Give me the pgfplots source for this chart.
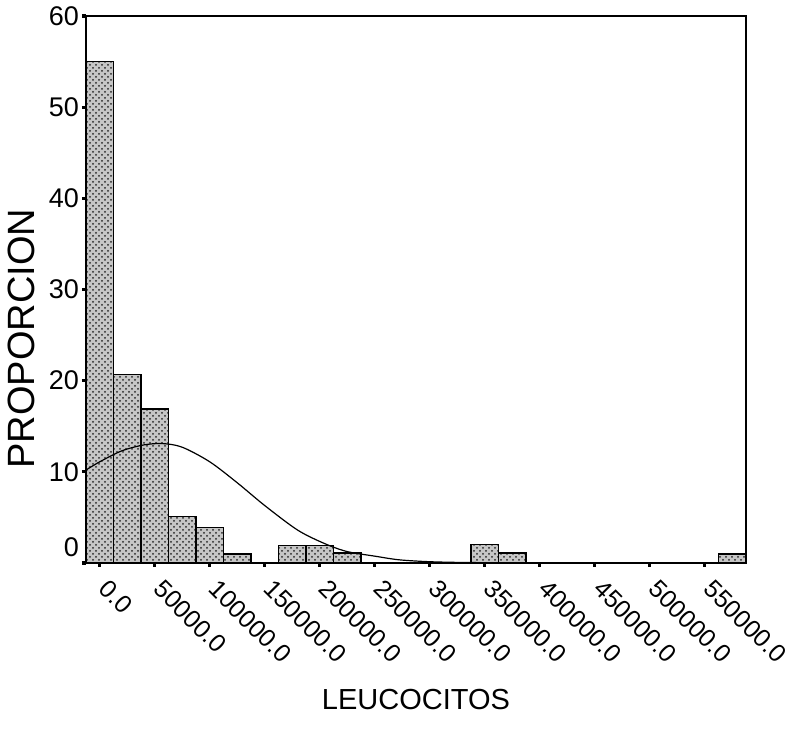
\documentclass[border=0pt]{standalone}
\usepackage{fontspec}
\setmainfont{Liberation Sans}
\usepackage{pgfplots}
\pgfplotsset{compat=1.18}
\usetikzlibrary{patterns}
\begin{document}
\begin{tikzpicture}
\begin{axis}[
  scale only axis,
  width=330pt, height=273.5pt,
  xmin=-12500, xmax=587500,
  ymin=0, ymax=60,
  scaled x ticks=false,
  axis line style={line width=0.7pt},
  xtick={0,50000,...,550000},
  xticklabels={0.0,50000.0,100000.0,150000.0,200000.0,250000.0,300000.0,350000.0,400000.0,450000.0,500000.0,550000.0},
  ytick={10,20,...,60},
  extra y ticks={0},
  extra y tick style={yticklabel style={yshift=8pt}},
  xtick pos=left, ytick pos=left,
  tick align=outside,
  major tick length=2pt,
  tick style={line width=1.6pt, black},
  xticklabel style={rotate=-45, anchor=north west, xshift=4pt, yshift=3pt, font=\fontsize{12.5}{15}\selectfont},
  yticklabel style={xshift=2pt, font=\fontsize{13.5}{16}\selectfont},
  /pgf/number format/assume math mode=true,
  every axis y label/.style={at={(axis description cs:-0.098,0.41)}, rotate=90, anchor=center, font=\fontsize{19}{22}\selectfont},
  every axis x label/.style={at={(axis description cs:0.5,-0.25)}, anchor=center, font=\fontsize{14.5}{17}\selectfont},
  xlabel={LEUCOCITOS},
  ylabel={PROPORCION},
  clip=false,
]
\addplot[ybar, bar width=25000, bar shift=0pt, draw=black, line width=0.7pt,
  fill=gray!45, postaction={pattern=crosshatch dots, pattern color=black!85}]
  coordinates {
  (0,55) (25000,20.7) (50000,16.9) (75000,5.1) (100000,3.9) (125000,1.0)
  (175000,1.9) (200000,1.9) (225000,1.1)
  (350000,2.0) (375000,1.1) (575000,1.0)
  };
\addplot[smooth, black, line width=0.6pt] coordinates {
  (-12500,10.2) (0,11.1) (20000,12.3) (40000,12.95) (57000,13.1)
  (75000,12.7) (100000,11.1) (125000,8.8) (150000,6.3)
  (180000,3.6) (205000,2.1) (225000,1.25) (250000,0.75) (272000,0.35)
  (300000,0.14) (335000,0.05) (400000,0.02) (587500,0.0)
  };
\end{axis}
\pgfresetboundingbox
\path[use as bounding box] (-43pt,-87pt) rectangle (351.5pt,281.5pt);
\end{tikzpicture}
\end{document}
